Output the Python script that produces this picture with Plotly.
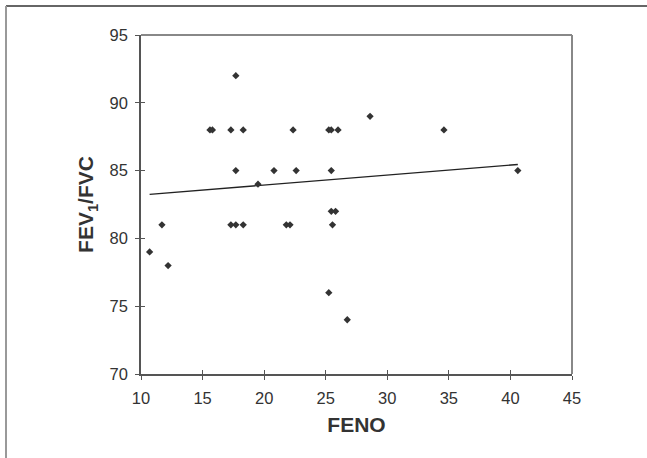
import plotly.graph_objects as go

# Data
feno = [10.7, 11.7, 12.2, 15.6, 15.8, 17.3, 17.7, 18.3, 17.7, 17.3, 17.7, 18.3,
        19.5, 20.8, 22.35, 22.6, 21.8, 22.1, 25.25, 25.45, 26.0, 25.45, 25.45,
        25.8, 25.55, 28.6, 34.6, 40.6, 25.25, 26.75]
fev1_fvc = [79, 81, 78, 88, 88, 88, 92, 88, 85, 81, 81, 81,
            84, 85, 88, 85, 81, 81, 88, 88, 88, 85, 82,
            82, 81, 89, 88, 85, 76, 74]
trend_x = [10.7, 40.6]
trend_y = [83.25, 85.45]

x_ticks = [10, 15, 20, 25, 30, 35, 40, 45]
y_ticks = [70, 75, 80, 85, 90, 95]

L, R, T, B = 141, 75, 35, 84
W, H = 647, 458
pw, ph = W - L - R, H - T - B

fig = go.Figure()
fig.add_trace(go.Scatter(x=trend_x, y=trend_y, mode="lines",
                         line=dict(color="#222222", width=1.4),
                         hoverinfo="skip", showlegend=False))
fig.add_trace(go.Scatter(x=feno, y=fev1_fvc, mode="markers",
                         marker=dict(symbol="diamond", size=5.6, color="#333333",
                                     line=dict(width=0)),
                         showlegend=False))
# helper (empty) trace for the inner half of the crossing ticks
fig.add_trace(go.Scatter(x=[None], y=[None], xaxis="x2", yaxis="y2",
                         showlegend=False, hoverinfo="skip"))

font_tick = dict(family="Liberation Sans, Arial, sans-serif", size=16.5, color="#333333")
font_title = dict(family="Liberation Sans, Arial, sans-serif", size=21, color="#333333")

fig.update_layout(
    width=W, height=H,
    margin=dict(l=L, r=R, t=T, b=B, pad=0),
    paper_bgcolor="white", plot_bgcolor="white",
    xaxis=dict(range=[10, 45], tickvals=x_ticks, ticktext=[str(v) for v in x_ticks],
               showgrid=False, zeroline=False, showline=True, linecolor="#555555",
               linewidth=1.5, ticks="outside", ticklen=4, tickcolor="#555555",
               tickwidth=1, tickfont=font_tick, ticklabelstandoff=4,
               title=dict(text="<b>FENO</b>", font=font_title, standoff=12)),
    yaxis=dict(range=[70, 95], tickvals=y_ticks, ticktext=[str(v) for v in y_ticks],
               showgrid=False, zeroline=False, showline=True, linecolor="#555555",
               linewidth=1.5, ticks="outside", ticklen=4, tickcolor="#555555",
               tickwidth=1, tickfont=font_tick, ticklabelstandoff=4,
               title=dict(text="<b>FEV<sub>1</sub>/FVC</b>", font=font_title, standoff=10)),
    xaxis2=dict(range=[10, 45], tickvals=x_ticks, overlaying="x", showticklabels=False,
                showgrid=False, zeroline=False, showline=False, ticks="inside",
                ticklen=4, tickcolor="#555555", tickwidth=1),
    yaxis2=dict(range=[70, 95], tickvals=y_ticks, overlaying="y", showticklabels=False,
                showgrid=False, zeroline=False, showline=False, ticks="inside",
                ticklen=4, tickcolor="#555555", tickwidth=1),
    shapes=[
        # plot-area border top & right
        dict(type="line", xref="paper", yref="paper", x0=0, x1=1, y0=1, y1=1,
             line=dict(color="#888888", width=2)),
        dict(type="line", xref="paper", yref="paper", x0=1, x1=1, y0=0, y1=1,
             line=dict(color="#888888", width=2)),
        # outer figure frame (top and left)
        dict(type="line", xref="paper", yref="paper",
             x0=(6 - L) / pw, x1=(W + 2 - L) / pw,
             y0=1 + (T - 6) / ph, y1=1 + (T - 6) / ph,
             line=dict(color="#333333", width=1.5)),
        dict(type="line", xref="paper", yref="paper",
             x0=(6 - L) / pw, x1=(6 - L) / pw,
             y0=1 + (T - 6) / ph, y1=-(B + 2) / ph,
             line=dict(color="#999999", width=2)),
    ],
)

fig.write_html("out.html", config={"displayModeBar": False},
               post_script="document.body.style.margin='0';document.body.style.overflow='hidden';")
